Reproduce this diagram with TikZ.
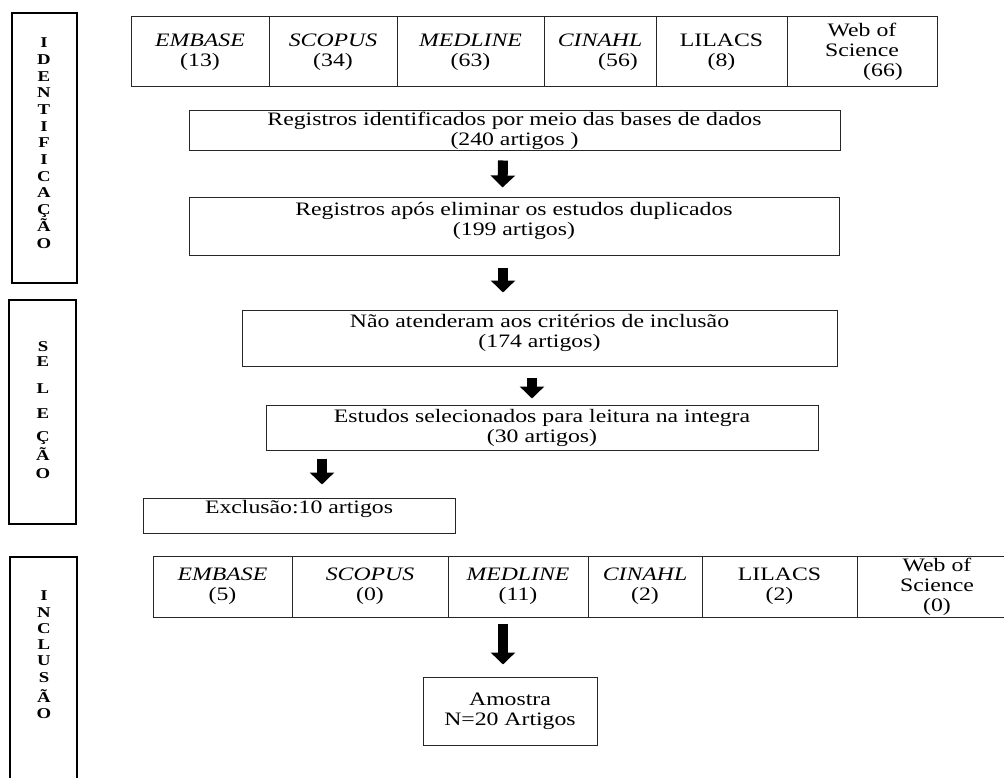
\documentclass[tikz,border=0pt]{standalone}
\usepackage{fontspec}
\setmainfont{Liberation Serif}[FakeStretch=1.25]
\usetikzlibrary{arrows.meta}

\begin{document}
\begin{tikzpicture}[x=1pt, y=-1pt,
  every node/.style={font=\fontsize{19}{20}\selectfont},
  box/.style={draw=black!85, line width=1pt, inner sep=0pt, align=center},
  cell/.style={box, minimum height=70pt},
  lowcell/.style={box, minimum height=61pt},
  side/.style={draw, line width=2.4pt, inner sep=0pt},
  sidetext/.style={align=center, inner sep=0pt, font=\fontsize{15}{16.7}\selectfont\bfseries},
  toptext/.style={anchor=north, align=center, inner sep=0pt},
  fat/.style={line width=10pt, -{Triangle[width=24pt,length=12pt]}}]
   \useasboundingbox (0,0) rectangle (1004,778);
   \clip (0,0) rectangle (1004,778);

   % side frames
   \node[side, minimum width=65pt, minimum height=270pt] (ident) at (44.5,148) {};
   \node[side, minimum width=67pt, minimum height=224pt] (selec) at (42.5,412) {};
   \node[side, minimum width=67pt, minimum height=260pt] (inclu) at (43.5,687) {};
   \node[sidetext] (identtxt) at (44,143) {I\\D\\E\\N\\T\\I\\F\\I\\C\\A\\Ç\\Ã\\O};
   \node[sidetext, font=\fontsize{15}{15}\selectfont\bfseries] (selectxt) at (43,410.5)
      {S\\E\\[12pt]L\\[10pt]E\\[8pt]Ç\\[2pt]Ã\\[3pt]O};
   \node[sidetext, font=\fontsize{15}{16.3}\selectfont\bfseries] (inclutxt) at (44,655)
      {I\\N\\C\\L\\U\\S\\[4pt]Ã\\O};

   % databases, search
   \node[cell, minimum width=138pt] (t1) at (200,52)   {\textit{EMBASE}\\(13)};
   \node[cell, minimum width=128pt] (t2) at (333,52)   {\textit{SCOPUS}\\(34)};
   \node[cell, minimum width=147pt] (t3) at (470.5,52) {\textit{MEDLINE}\\(63)};
   \node[cell, minimum width=112pt] (t4) at (600,52)   {\textit{CINAHL}\\\hspace*{36pt}(56)};
   \node[cell, minimum width=131pt] (t5) at (721.5,52) {LILACS\\(8)};
   \node[cell, minimum width=150pt] (t6) at (862,52)   {Web of\\Science\\\hspace*{42pt}(66)};

   % flow boxes
   \node[box, minimum width=651pt, minimum height=40pt] (reg) at (514.5,131)
      {Registros identificados por meio das bases de dados\\(240 artigos )};
   \node[box, minimum width=650pt, minimum height=57pt,
      label={[toptext, yshift=-5pt]north:{Registros após eliminar os estudos duplicados\\(199 artigos)}}]
      (dup) at (514,226.5) {};
   \node[box, minimum width=595pt, minimum height=56pt,
      label={[toptext, yshift=-5pt]north:{Não atenderam aos critérios de inclusão\\(174 artigos)}}]
      (crit) at (539.5,338) {};
   \node[box, minimum width=552pt, minimum height=45pt] (sel) at (542,427.5)
      {Estudos selecionados para leitura na integra\\(30 artigos)};
   \node[box, minimum width=312pt, minimum height=35pt,
      label={[toptext, yshift=-3pt]north:{Exclusão:10 artigos}}]
      (exc) at (299,515.5) {};

   % databases, included
   \node[lowcell, minimum width=139pt] (i1) at (222.5,586.5) {\textit{EMBASE}\\(5)};
   \node[lowcell, minimum width=156pt] (i2) at (370,586.5)   {\textit{SCOPUS}\\(0)};
   \node[lowcell, minimum width=140pt] (i3) at (518,586.5)   {\textit{MEDLINE}\\(11)};
   \node[lowcell, minimum width=114pt] (i4) at (645,586.5)   {\textit{CINAHL}\\(2)};
   \node[lowcell, minimum width=155pt] (i5) at (779.5,586.5) {LILACS\\(2)};
   \node[lowcell, minimum width=160pt] (i6) at (937,586.5)   {Web of\\Science\\(0)};

   \node[box, minimum width=174pt, minimum height=68pt] (amo) at (510,711)
      {Amostra\\N=20 Artigos};

   \draw[fat] ([xshift=-11.5pt,yshift=-9pt]reg.south) -- ([xshift=-11.5pt,yshift=10pt]dup.north);
   \draw[fat] ([xshift=-11pt,yshift=-12pt]dup.south) -- ([xshift=-36.5pt,yshift=17pt]crit.north);
   \draw[fat] ([xshift=-7.5pt,yshift=-11pt]crit.south) -- ([xshift=-10pt,yshift=6pt]sel.north);
   \draw[fat] ([xshift=-220pt,yshift=-8pt]sel.south) -- ([xshift=23pt,yshift=13pt]exc.north);
   \draw[fat] ([xshift=-15pt,yshift=-6pt]i3.south) -- ([xshift=-7pt,yshift=12pt]amo.north);
\end{tikzpicture}
\end{document}
